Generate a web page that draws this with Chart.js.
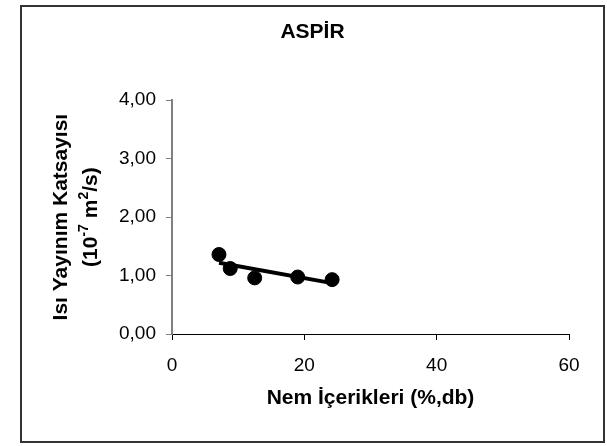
<!DOCTYPE html>
<html>
<head>
<meta charset="utf-8">
<script src="https://cdn.jsdelivr.net/npm/chart.js@4.4.1/dist/chart.umd.min.js"></script>
<style>
  html, body { margin: 0; padding: 0; background: #ffffff; }
  #wrap { width: 607px; height: 446px; }
</style>
</head>
<body>
<div id="wrap"><canvas id="c" width="607" height="446"></canvas></div>
<script>
// ---- data ----
const moisture = [7.1, 8.8, 12.5, 19.0, 24.2];          // Nem İçerikleri (%,db)
const diffusivity = [1.36, 1.12, 0.96, 0.975, 0.93];    // 10^-7 m2/s
const trendX = [7.1, 24.2];
const trendY = [1.22, 0.87];
const yTickLabels = ['0,00', '1,00', '2,00', '3,00', '4,00'];
const xTickLabels = ['0', '20', '40', '60'];
const chartTitle = 'ASPİR';
const xTitle = 'Nem İçerikleri (%,db)';
const yTitleLine1 = 'Isı Yayınım Katsayısı';
const yTitleLine2 = [['(10', false], ['-7', true], [' m', false], ['2', true], ['/s)', false]];

const FONT = '"Liberation Sans", Arial, Helvetica, sans-serif';
Chart.defaults.font.family = FONT;
Chart.defaults.color = '#000';

const pts = moisture.map((x, i) => ({ x: x, y: diffusivity[i] }));
const trend = trendX.map((x, i) => ({ x: x, y: trendY[i] }));

const yTitlePlugin = {
  id: 'yTitle',
  afterDraw(chart) {
    const ctx = chart.ctx;
    const cy = (chart.chartArea.top + chart.chartArea.bottom) / 2;
    ctx.save();
    ctx.fillStyle = '#000';
    ctx.textBaseline = 'middle';
    ctx.translate(61, cy);
    ctx.rotate(-Math.PI / 2);
    ctx.font = 'bold 21px ' + FONT;
    ctx.textAlign = 'center';
    ctx.fillText(yTitleLine1, 0, 0);
    // second line with superscripts
    const big = 'bold 21px ' + FONT, small = 'bold 14px ' + FONT;
    let total = 0;
    yTitleLine2.forEach(([t, sup]) => { ctx.font = sup ? small : big; total += ctx.measureText(t).width; });
    let x = -total / 2;
    ctx.textAlign = 'left';
    yTitleLine2.forEach(([t, sup]) => {
      ctx.font = sup ? small : big;
      ctx.fillText(t, x, 30 + (sup ? -7 : 0));
      x += ctx.measureText(t).width;
    });
    ctx.restore();
  }
};

const borderPlugin = {
  id: 'frame',
  afterDraw(chart) {
    const ctx = chart.ctx;
    ctx.save();
    ctx.strokeStyle = '#333';
    ctx.lineWidth = 2;
    ctx.strokeRect(21, 6, 583, 436);
    ctx.restore();
  }
};

new Chart(document.getElementById('c'), {
  type: 'scatter',
  data: {
    datasets: [
      {
        type: 'line',
        data: trend,
        borderColor: '#000',
        borderWidth: 4,
        pointRadius: 0,
        fill: false,
        tension: 0,
        order: 2
      },
      {
        data: pts,
        backgroundColor: '#000',
        borderColor: '#000',
        pointRadius: 7,
        pointHoverRadius: 7,
        order: 1
      }
    ]
  },
  options: {
    responsive: false,
    animation: false,
    devicePixelRatio: 1,
    layout: { padding: { left: 56, right: 38, top: 0, bottom: 0 } },
    plugins: {
      legend: { display: false },
      tooltip: { enabled: false },
      title: {
        display: true,
        text: chartTitle,
        color: '#000',
        font: { size: 21, weight: 'bold', family: FONT, lineHeight: 1.2 },
        padding: { top: 20, bottom: 55 }
      }
    },
    scales: {
      x: {
        type: 'linear',
        min: 0, max: 60,
        afterFit(s) { s.height = 112; },
        ticks: {
          stepSize: 20,
          padding: 14,
          color: '#000',
          font: { size: 19, family: FONT },
          callback: (v) => { const i = xTickLabels.indexOf(String(v)); return i >= 0 ? xTickLabels[i] : ''; }
        },
        grid: { drawOnChartArea: false, drawTicks: true, tickLength: 6, color: '#000', lineWidth: 1 },
        border: { display: true, color: '#000', width: 1 },
        title: {
          display: true,
          text: xTitle,
          color: '#000',
          font: { size: 21, weight: 'bold', family: FONT, lineHeight: 1.2 },
          padding: { top: 0, bottom: 35 }
        }
      },
      y: {
        type: 'linear',
        min: 0, max: 4,
        afterFit(s) { s.width = 116; },
        ticks: {
          stepSize: 1,
          padding: 10,
          color: '#000',
          font: { size: 19, family: FONT },
          callback: (v) => Number.isInteger(v) && yTickLabels[v] !== undefined ? yTickLabels[v] : ''
        },
        grid: { drawOnChartArea: false, drawTicks: true, tickLength: 6, color: '#808080', lineWidth: 1 },
        border: { display: true, color: '#808080', width: 2 },
        title: { display: false }
      }
    }
  },
  plugins: [yTitlePlugin, borderPlugin]
});
</script>
</body>
</html>
